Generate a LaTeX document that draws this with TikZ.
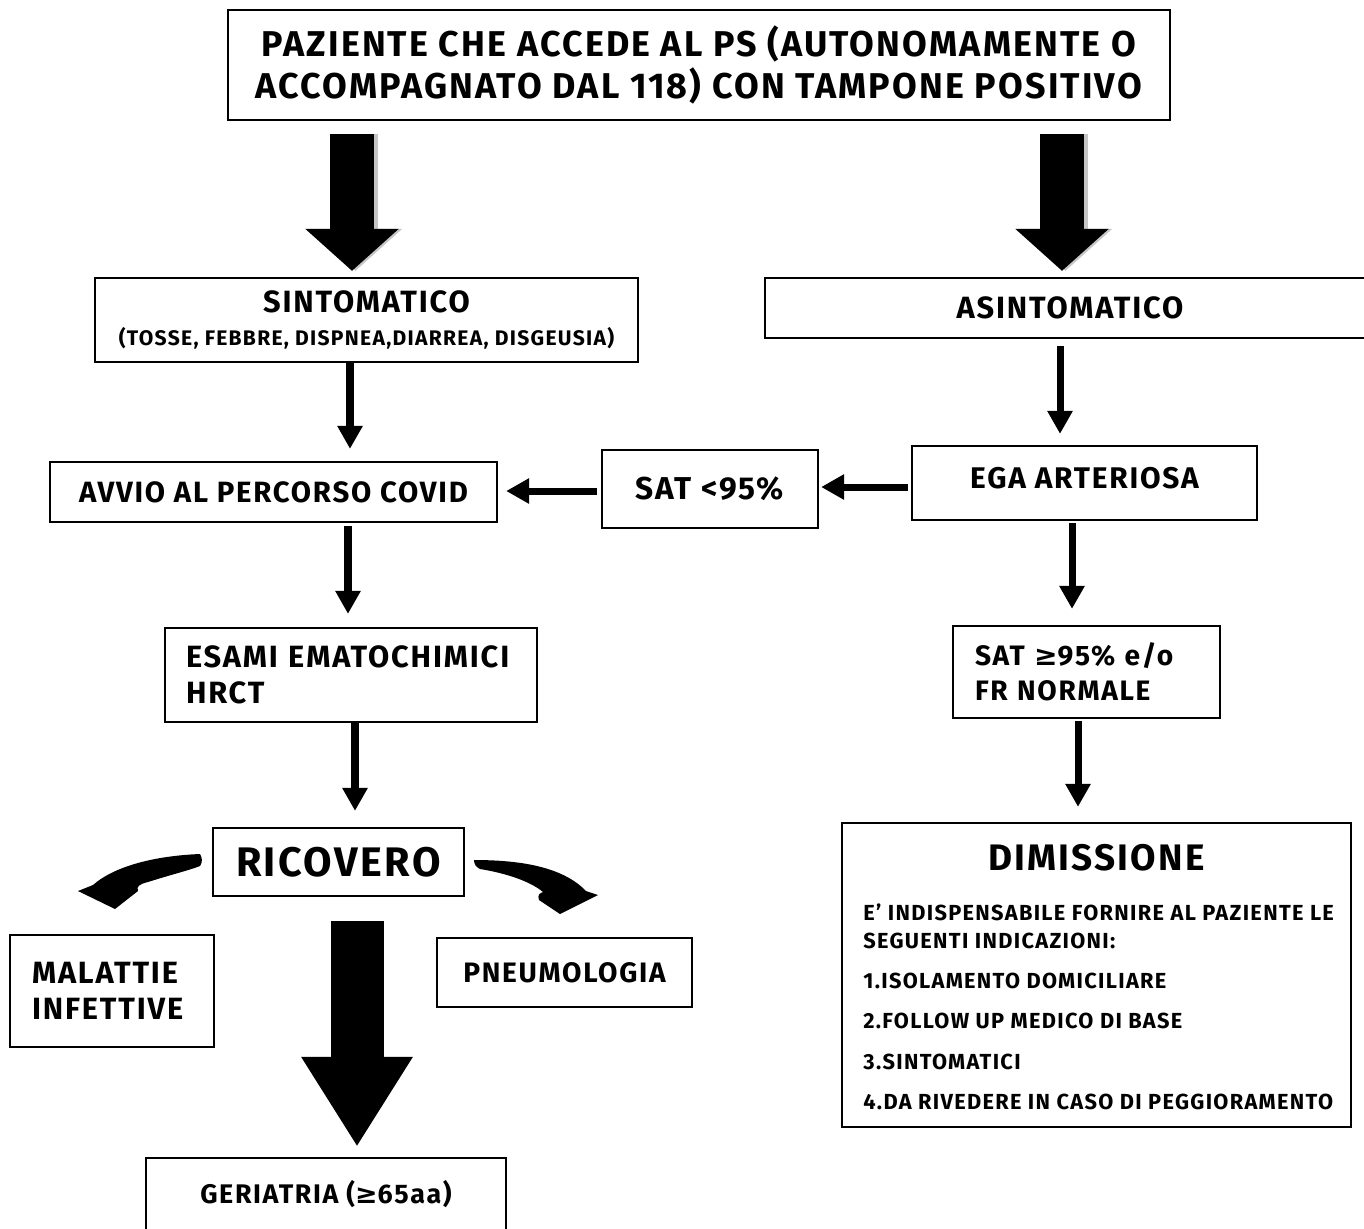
\documentclass[tikz,border=0pt]{standalone}
\usepackage{fontspec}
\setmainfont{Fira Sans}[LetterSpace=6]
\newfontfamily\symfont{DejaVu Sans}
\usetikzlibrary{arrows.meta}
\usetikzlibrary{positioning}

\newcommand\fs[2]{\fontsize{#1}{#2}\selectfont\bfseries}

\begin{document}
\begin{tikzpicture}[x=0.02cm, y=-0.02cm,
	box/.style={draw, line width=1.3pt, inner sep=0pt, font=\fs{17.5}{20.5}},
	flow/.style={line width=4pt, -{Triangle[length=0.46cm, width=0.48cm]}},
	bigflow/.style={line width=0.88cm, -{Triangle[length=0.84cm, width=1.82cm]}},
	hugeflow/.style={line width=1.06cm, -{Triangle[length=1.8cm, width=2.1cm]}},
	shadowed/.style={gray!45, xshift=0.07cm, yshift=-0.07cm}]
	\useasboundingbox (0, 0) rectangle (1364, 1228);

	% boxes
	\node[box, minimum width=942*0.02cm, minimum height=110*0.02cm, align=center, font=\fs{20.4}{23.8}]
		(top) at (699, 65) {PAZIENTE CHE ACCEDE AL PS (AUTONOMAMENTE O\\ACCOMPAGNATO DAL 118) CON TAMPONE POSITIVO};
	\node[box, minimum width=543*0.02cm, minimum height=84*0.02cm, align=center]
		(sint) at (366.5, 320) {SINTOMATICO\\[-2pt]{\fs{12}{14}(TOSSE, FEBBRE, DISPNEA,DIARREA, DISGEUSIA)}};
	\node[box, minimum width=610*0.02cm, minimum height=60*0.02cm] (asint) at (1070, 308) {ASINTOMATICO};
	\node[box, minimum width=447*0.02cm, minimum height=60*0.02cm, font=\fs{16.7}{20}] (avvio) at (273.5, 492) {AVVIO AL PERCORSO COVID};
	\node[box, minimum width=216*0.02cm, minimum height=78*0.02cm, font=\fs{18}{22}] (satlow) at (710, 489) {SAT <95\%};
	\node[box, minimum width=345*0.02cm, minimum height=74*0.02cm, font=\fs{17}{20}, text depth=6pt] (ega) at (1084.5, 483) {EGA ARTERIOSA};
	\node[box, minimum width=372*0.02cm, minimum height=94*0.02cm, text width=330*0.02cm, align=left]
		(esami) at (351, 675) {ESAMI EMATOCHIMICI\\HRCT};
	\node[box, minimum width=251*0.02cm, minimum height=68*0.02cm, font=\fs{23.5}{28}] (ricov) at (338.5, 862) {RICOVERO};
	\node[box, minimum width=267*0.02cm, minimum height=92*0.02cm, text width=223*0.02cm, align=left, font=\fs{16}{20}]
		(sathigh) at (1086.5, 672) {SAT {\symfont ≥}95\% e/o\\FR NORMALE};
	\node[box, minimum width=509*0.02cm, minimum height=304*0.02cm] (dimis) at (1096.5, 975) {};
	\node[font=\fs{21}{25}] (dimtitle) at (1096.5, 858) {DIMISSIONE};
	\node[anchor=north west, inner sep=0pt, align=left, font=\fs{12.4}{16}] (dimtext) at (863, 903)
		{E' INDISPENSABILE FORNIRE AL PAZIENTE LE\\SEGUENTI INDICAZIONI:\\[7pt]
		1.ISOLAMENTO DOMICILIARE\\[7pt]
		2.FOLLOW UP MEDICO DI BASE\\[7pt]
		3.SINTOMATICI\\[7pt]
		4.DA RIVEDERE IN CASO DI PEGGIORAMENTO};
	\node[box, minimum width=204*0.02cm, minimum height=112*0.02cm, text width=160*0.02cm, align=left]
		(malat) at (112, 991) {MALATTIE\\INFETTIVE};
	\node[box, minimum width=255*0.02cm, minimum height=69*0.02cm, font=\fs{16}{20}] (pneumo) at (564.5, 972.5) {PNEUMOLOGIA};
	\node[box, minimum width=360*0.02cm, minimum height=87*0.02cm, font=\fs{15.3}{19}, text depth=11pt] (geri) at (326, 1201.5) {GERIATRIA ({\symfont ≥}65aa)};

	% big arrows from the top
	\draw[bigflow, shadowed, shorten <=0.26cm, shorten >=0.12cm] (352,0 |- top.south) -- (352,0 |- sint.north);
	\draw[bigflow, shorten <=0.26cm, shorten >=0.12cm] (352,0 |- top.south) -- (352,0 |- sint.north);
	\draw[bigflow, shadowed, shorten <=0.26cm, shorten >=0.12cm] (1062,0 |- top.south) -- (1062,0 |- asint.north);
	\draw[bigflow, shorten <=0.26cm, shorten >=0.12cm] (1062,0 |- top.south) -- (1062,0 |- asint.north);

	% thin arrows
	\draw[flow, shorten >=0.24cm] (350,0 |- sint.south) -- (350,0 |- avvio.north);
	\draw[flow, shorten <=0.14cm, shorten >=0.22cm] (1060,0 |- asint.south) -- (1060,0 |- ega.north);
	\draw[flow, shorten <=0.06cm, shorten >=0.26cm] (348,0 |- avvio.south) -- (348,0 |- esami.north);
	\draw[flow, shorten >=0.32cm] (355,0 |- esami.south) -- (355,0 |- ricov.north);
	\draw[flow, shorten <=0.04cm, shorten >=0.32cm] (1072,0 |- ega.south) -- (1072,0 |- sathigh.north);
	\draw[flow, shorten <=0.04cm, shorten >=0.3cm] (1078,0 |- sathigh.south) -- (1078,0 |- dimis.north);
	\draw[flow, shorten <=0.06cm, shorten >=0.04cm] (0,487 -| ega.west) -- (0,487 -| satlow.east);
	\draw[flow, shorten <=0.08cm, shorten >=0.16cm] (0,491 -| satlow.west) -- (0,491 -| avvio.east);

	% big arrow down to geriatria
	\draw[hugeflow, shorten <=0.48cm, shorten >=0.2cm] (357,0 |- ricov.south) -- (357,0 |- geri.north);

	% curved arrows
	\fill (200, 854) .. controls (150, 856) and (112, 868) .. (93, 885) -- (78, 891) -- (115, 909) -- (138, 891)
		.. controls (136, 886) and (140, 884) .. (148, 882) .. controls (170, 875) and (190, 870) .. (200, 866)
		.. controls (203, 862) and (202, 857) .. cycle;
	\fill (474, 860) .. controls (518, 860) and (562, 866) .. (586, 891) -- (598, 895) -- (560, 914) -- (539, 900)
		.. controls (537, 895) and (540, 893) .. (543, 892) .. controls (530, 881) and (505, 873) .. (480, 869)
		.. controls (476, 867) and (474, 864) .. cycle;
\end{tikzpicture}
\end{document}
